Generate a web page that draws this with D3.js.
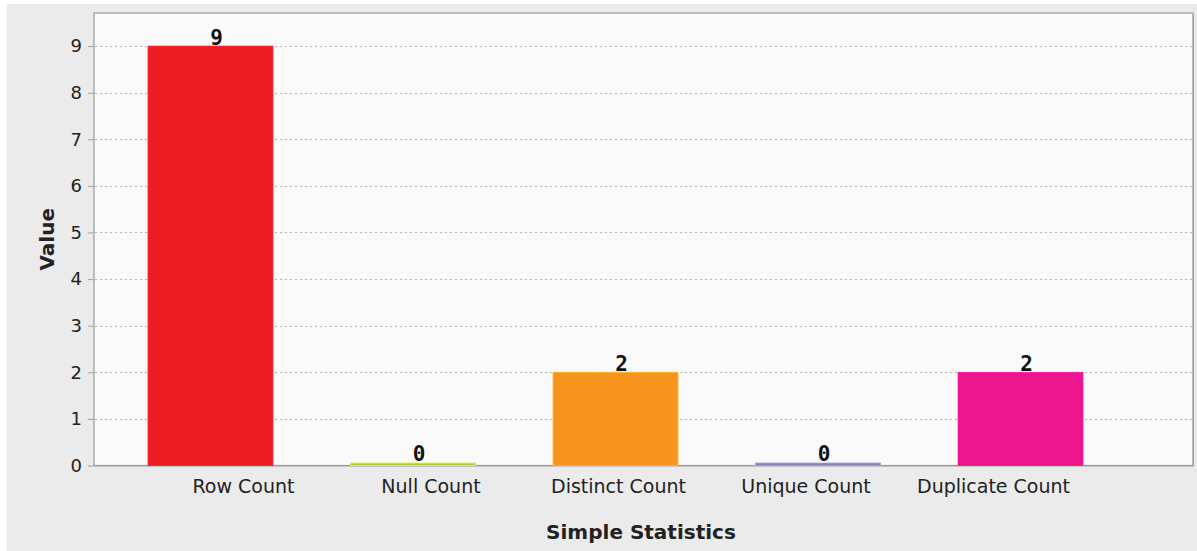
<!DOCTYPE html>
<html>
<head>
<meta charset="utf-8">
<script src="https://cdn.jsdelivr.net/npm/d3@7"></script>
<style>
  html, body { margin: 0; padding: 0; background: #ffffff; }
  svg { display: block; }
</style>
</head>
<body>
<svg id="chart" width="1197" height="551"></svg>
<script>
// Simple statistics of a column
const categories = ["Row Count", "Null Count", "Distinct Count", "Unique Count", "Duplicate Count"];
const values = [9, 0, 2, 0, 2];
const colors = ["#ec1c24", "#b5cc3a", "#f7941d", "#8a80b8", "#ec168c"];
const yTicks = [0, 1, 2, 3, 4, 5, 6, 7, 8, 9];
const yMax = 9.71;

const svg = d3.select("#chart");
const W = 1197, H = 551;

// panel background
svg.append("rect").attr("x", 7).attr("y", 4).attr("width", W - 7).attr("height", H - 4).attr("fill", "#ebebeb");

const plot = { left: 94, top: 13, right: 1193, bottom: 465.5 };

// plot area with drop shadow on right/bottom
svg.append("rect").attr("x", plot.left + 1).attr("y", plot.top + 1)
  .attr("width", plot.right - plot.left).attr("height", plot.bottom - plot.top)
  .attr("fill", "#a8a8a8");
svg.append("rect").attr("x", plot.left).attr("y", plot.top)
  .attr("width", plot.right - plot.left).attr("height", plot.bottom - plot.top)
  .attr("fill", "#fafafa").attr("stroke", "#9a9a9a").attr("stroke-width", 1.2);

const y = d3.scaleLinear().domain([0, yMax]).range([plot.bottom, plot.top]);

const x = d3.scaleBand().domain(categories).range([148, 1083])
  .paddingInner(0.383).paddingOuter(0);

const xLabel = d3.scalePoint().domain(categories).range([243, 993]);

// gridlines
svg.append("g").selectAll("line").data(yTicks.filter(t => t > 0)).join("line")
  .attr("x1", plot.left + 1).attr("x2", plot.right - 1)
  .attr("y1", d => Math.round(y(d)) + 0.5).attr("y2", d => Math.round(y(d)) + 0.5)
  .attr("stroke", "#b4b4b4").attr("stroke-width", 1).attr("stroke-dasharray", "2,3");

// y axis
const yAxis = d3.axisLeft(y).tickValues(yTicks).tickSize(6).tickPadding(6).tickFormat(d3.format("d"));
const gy = svg.append("g").attr("transform", `translate(${plot.left},0)`).call(yAxis);
gy.select(".domain").remove();
gy.selectAll(".tick line").attr("stroke", "#a0a0a0");
gy.selectAll(".tick text").attr("fill", "#222").style("font-family", "'DejaVu Sans', sans-serif").style("font-size", "18px");

// bars
const minH = 2.5;
svg.append("g").selectAll("rect").data(categories).join("rect")
  .attr("x", d => x(d))
  .attr("width", x.bandwidth())
  .attr("y", (d, i) => Math.min(y(values[i]), plot.bottom - minH))
  .attr("height", (d, i) => Math.max(plot.bottom - y(values[i]), minH))
  .attr("fill", (d, i) => colors[i])
  .attr("stroke", (d, i) => d3.color(colors[i]).brighter(0.6))
  .attr("stroke-width", 0.8);

// value labels
svg.append("g").selectAll("text").data(categories).join("text")
  .attr("x", d => x(d) + x.bandwidth() / 2 + 6)
  .attr("y", (d, i) => y(values[i]) - (values[i] === 0 ? 5 : 1))
  .attr("text-anchor", "middle")
  .attr("fill", "#111")
  .style("font-family", "'DejaVu Sans Mono', monospace")
  .style("font-weight", "bold")
  .style("font-size", "21px")
  .text((d, i) => values[i]);

// category labels
const xAxis = d3.axisBottom(xLabel).tickSize(0).tickPadding(14);
const gx = svg.append("g").attr("transform", `translate(0,${plot.bottom})`).call(xAxis);
gx.select(".domain").remove();
gx.selectAll(".tick text").attr("fill", "#222").style("font-family", "'DejaVu Sans', sans-serif").style("font-size", "19px");

// axis titles
svg.append("text")
  .attr("transform", `translate(54,${(plot.top + plot.bottom) / 2}) rotate(-90)`)
  .attr("text-anchor", "middle")
  .attr("fill", "#222")
  .style("font-family", "'DejaVu Sans', sans-serif").style("font-weight", "bold").style("font-size", "20px")
  .text("Value");

svg.append("text")
  .attr("x", 641).attr("y", 539)
  .attr("text-anchor", "middle")
  .attr("fill", "#222")
  .style("font-family", "'DejaVu Sans', sans-serif").style("font-weight", "bold").style("font-size", "20px")
  .text("Simple Statistics");
</script>
</body>
</html>
